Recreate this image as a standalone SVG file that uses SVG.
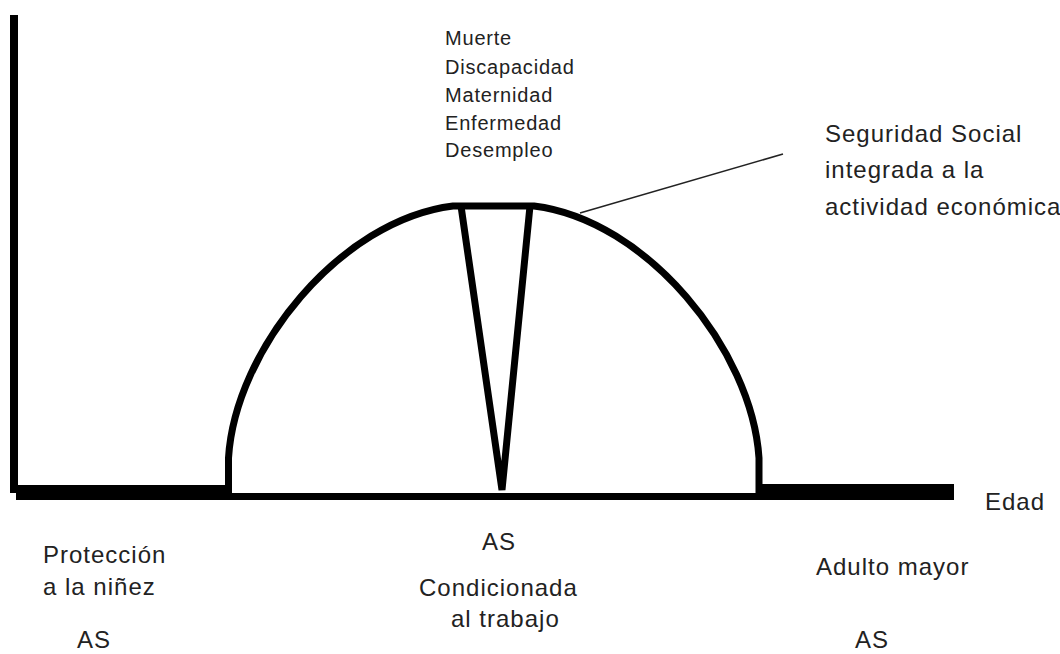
<svg xmlns="http://www.w3.org/2000/svg" width="1060" height="654" viewBox="0 0 1060 654">
<style>
.t{font-family:"Liberation Sans",Arial,sans-serif;fill:#222;}
.s{font-size:20px;letter-spacing:0.8px;}
.m{font-size:24px;letter-spacing:1px;}
.ln{fill:none;stroke:#000;stroke-linecap:butt;stroke-linejoin:miter;}
</style>
<rect width="1060" height="654" fill="#fff"/>
<g id="axes">
<rect x="10" y="15" width="8" height="478" fill="#000"/>
<rect x="16" y="485" width="214" height="15" fill="#000"/>
<rect x="228" y="493" width="531" height="7" fill="#000"/>
<rect x="757" y="484" width="197" height="16" fill="#000"/>
</g>
<g id="dome">
<path class="ln" stroke-width="7" d="M228.5,493 L228.5,458 C235,350 340,220 453,206 L534,206 C647,220 752,350 759,458 L759,493"/>
<path class="ln" stroke-width="7" d="M461,206 L502,490 L530,206"/>
</g>
<g id="connectors">
<line x1="580" y1="213" x2="783" y2="154" stroke="#222" stroke-width="1.6"/>
</g>
<g id="risks">
<text class="t s" x="445" y="45">Muerte</text>
<text class="t s" x="445" y="74">Discapacidad</text>
<text class="t s" x="445" y="102">Maternidad</text>
<text class="t s" x="445" y="130">Enfermedad</text>
<text class="t s" x="445" y="157">Desempleo</text>
</g>
<g id="seguridad-social">
<text class="t m" x="825" y="142">Seguridad Social</text>
<text class="t m" x="825" y="178">integrada a la</text>
<text class="t m" x="825" y="215">actividad económica</text>
</g>
<g id="edad">
<text class="t m" x="985" y="510">Edad</text>
</g>
<g id="ninez">
<text class="t m" x="43" y="563">Protección</text>
<text class="t m" x="43" y="595">a la niñez</text>
<text class="t m" x="77" y="648">AS</text>
</g>
<g id="trabajo">
<text class="t m" x="482" y="550">AS</text>
<text class="t m" x="419" y="596">Condicionada</text>
<text class="t m" x="451" y="627">al trabajo</text>
</g>
<g id="adulto">
<text class="t m" x="816" y="575">Adulto mayor</text>
<text class="t m" x="855" y="648">AS</text>
</g>
</svg>
